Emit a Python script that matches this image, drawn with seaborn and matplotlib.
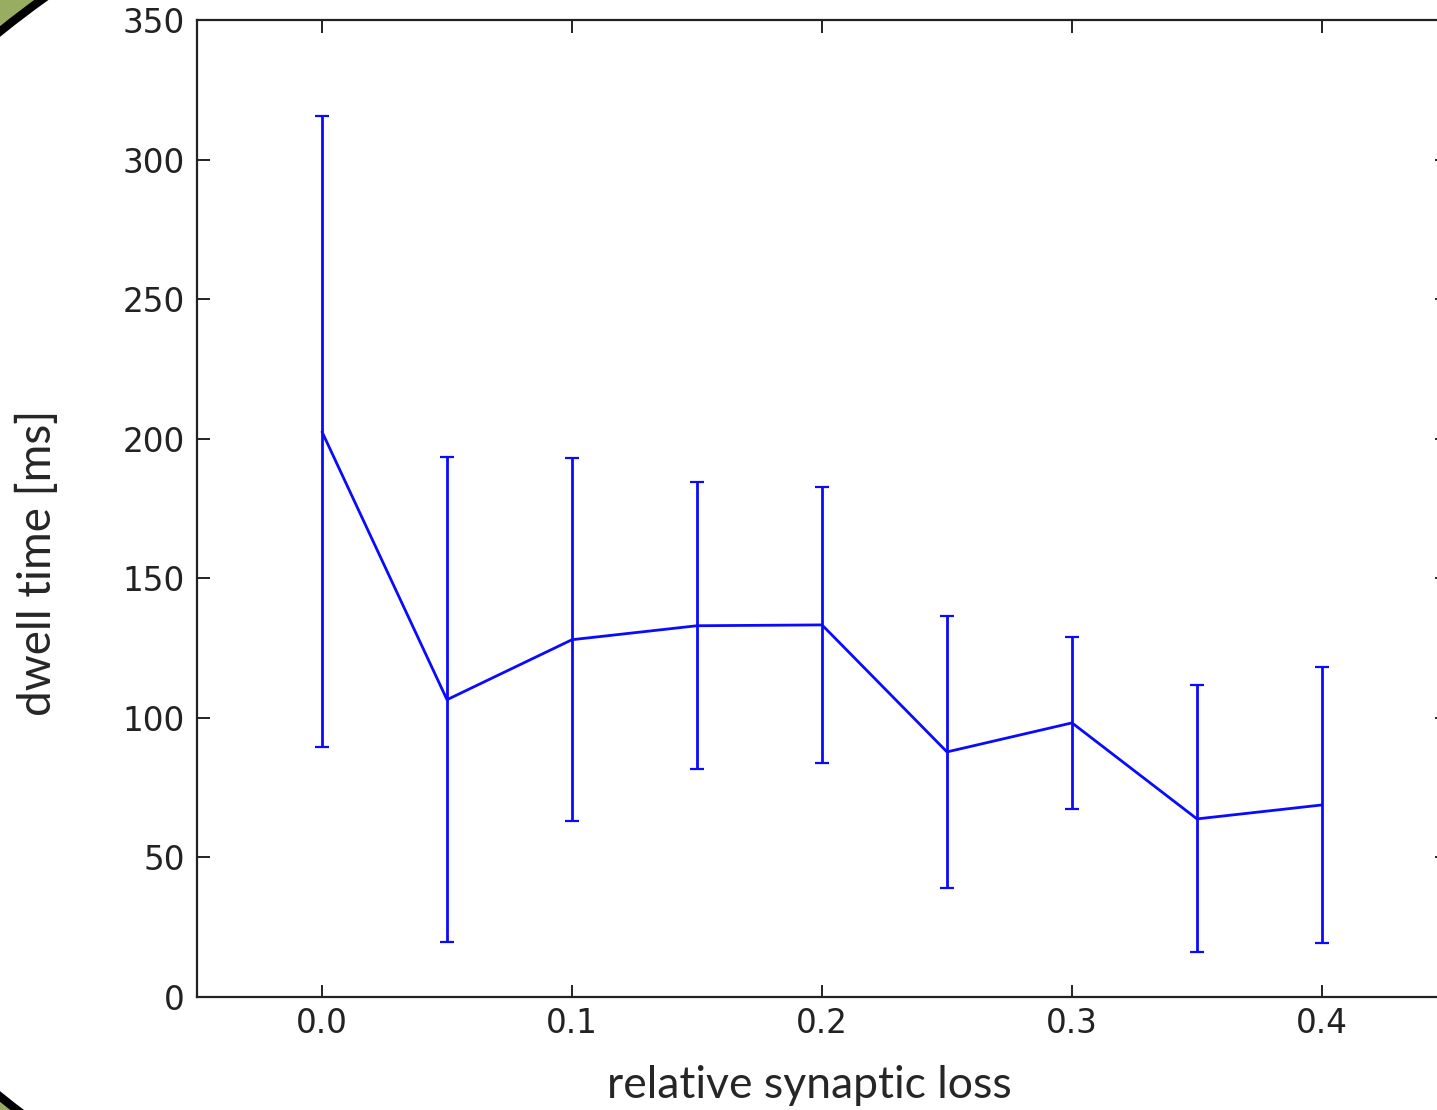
import numpy as np
import pandas as pd
import matplotlib
matplotlib.use("Agg")
import matplotlib.pyplot as plt
from matplotlib.patches import Ellipse, Polygon
import seaborn as sns

# relative synaptic loss vs dwell time (mean +- std)
loss = [0.0, 0.05, 0.1, 0.15, 0.2, 0.25, 0.3, 0.35, 0.4]
dwell_mean = [202.5, 106.5, 128.0, 133.0, 133.3, 87.8, 98.2, 63.8, 68.8]
dwell_err = [113.0, 86.8, 65.0, 51.5, 49.5, 48.8, 30.8, 47.8, 49.5]

sns.set_style("ticks")
plt.rcParams["font.family"] = ["DejaVu Sans"]

df = pd.DataFrame({"loss": loss, "dwell": dwell_mean, "err": dwell_err})

W, H = 1437, 1110
fig = plt.figure(figsize=(W / 100, H / 100), dpi=100)
ax = fig.add_axes([197 / W, 1 - 997 / H, 1250 / W, 977 / H])

blue = "#0a0aff"
sns.lineplot(data=df, x="loss", y="dwell", ax=ax, color=blue, linewidth=2.0)
ax.errorbar(df["loss"], df["dwell"], yerr=df["err"], fmt="none",
            ecolor=blue, elinewidth=2.0, capsize=5, capthick=1.6)

ax.set_xlim(-0.05, 0.45)
ax.set_ylim(0, 350)
ax.set_xticks([0.0, 0.1, 0.2, 0.3, 0.4])
ax.set_yticks(np.arange(0, 351, 50))
ax.tick_params(direction="in", length=9, width=1.4, top=True, right=True,
               labelsize=23.5, colors="#222222", pad=9)
ax.tick_params(axis="x", pad=7)
for s in ax.spines.values():
    s.set_linewidth(1.6)
    s.set_color("#222222")

ax.set_xlabel("relative synaptic loss", family="Lato", fontsize=32,
              ha="center", va="center")
ax.set_ylabel("dwell time [ms]", family="Lato", fontsize=33,
              ha="center", va="center")
ax.xaxis.set_label_coords(0.49, (997 - 1085) / 977)
ax.yaxis.set_label_coords((37 - 197) / 1250, (997 - 563) / 977)

# slide frame (oval picture crop) showing in the left corners
cx, cy, a, b = 1000, 564, 1290, 843
t = np.linspace(0, 2 * np.pi, 2000)
ex = cx + a * np.cos(t)
ey = cy + b * np.sin(t)
top = (ex <= 80) & (ey <= 80)
bot = (ex <= 80) & (ey >= H - 80)
for mask, corner in [(top, (0, 0)), (bot, (0, H))]:
    pts = np.column_stack([ex[mask], ey[mask]])
    pts = pts[np.argsort(pts[:, 0])]
    poly = np.vstack([pts, [corner]])
    poly[:, 1] = H - poly[:, 1]
    fig.patches.append(Polygon(poly, closed=True, transform=None,
                               facecolor="#98ad62", edgecolor="none", figure=fig))
fig.patches.append(Ellipse((cx, H - cy), 2 * a, 2 * b, transform=None,
                           fill=False, edgecolor="black", linewidth=6,
                           figure=fig))

fig.savefig("out.png", dpi=100)
